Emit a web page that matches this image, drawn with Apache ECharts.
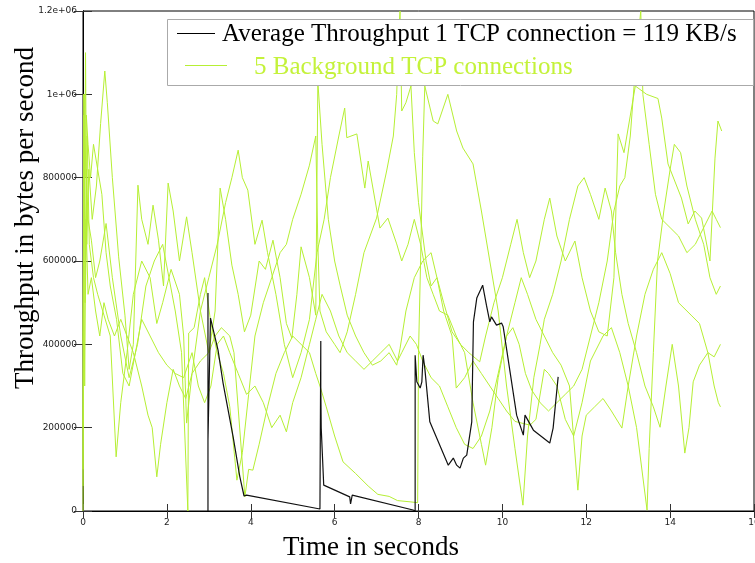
<!DOCTYPE html>
<html>
<head>
<meta charset="utf-8">
<script src="https://cdn.jsdelivr.net/npm/echarts@6/dist/echarts.min.js"></script>
<style>html,body{margin:0;padding:0;background:#fff;}#c{width:755px;height:563px;}</style>
</head>
<body>
<div id="c"></div>
<script>
// ---- data ----
const yTickLabels = ['0','200000','400000','600000','800000','1e+06','1.2e+06'];
const seriesNames = ['Average Throughput 1 TCP connection = 119 KB/s', '5 Background TCP connections'];

const fgT = [2.98,2.98,2.98,3.04,3.22,3.34,3.58,3.74,3.84,3.90,5.65,5.66,5.67,5.67,5.68,5.74,6.36,6.38,6.42,7.87,7.92,7.92,7.94,7.96,8.04,8.08,8.11,8.15,8.27,8.71,8.83,8.91,8.99,9.07,9.15,9.27,9.31,9.39,9.53,9.62,9.70,9.74,9.86,9.98,10.02,10.34,10.42,10.50,10.54,10.74,11.13,11.21,11.33];
const fgV = [0,523000,170000,463000,386000,307000,178000,82000,36000,38000,4800,0,408000,300000,200000,62000,34000,17000,38000,2400,0,374000,374000,310000,295000,310000,374000,343000,214000,110000,127000,110000,103000,127000,134000,214000,454000,511000,542000,494000,454000,466000,446000,451000,442000,230000,206000,182000,230000,194000,163000,199000,322000];

const bg1T = [0,0.02,0.04,0.06,0.09,0.14,0.22,0.32,0.42,0.52,0.58,0.70,0.85,1.00,1.10,1.20,1.31,1.40,1.55,1.67,1.80,1.92,2.03,2.15,2.30,2.47,2.60,2.80,3.00,3.15,3.27,3.40,3.55,3.70,3.85,4.00,4.20,4.35,4.53,4.70,4.85,4.98,5.10,5.20,5.40,5.55,5.60,5.70,5.85,6.00,6.13,6.30,6.50,6.70,6.90,7.10,7.30,7.48,7.56,7.70,7.90,8.10,8.30,8.44,8.60,8.80,9.00,9.20,9.46,9.60,9.80,10.00,10.20,10.35,10.50,10.65,10.80,11.00,11.13,11.30,11.50,11.73,11.90,12.10,12.30,12.50,12.66,12.76,12.90,13.17,13.44,13.71,13.80,13.95,14.27,14.43,14.59,14.75,14.95,15.07,15.14,15.23];
const bg1V = [60000,950000,700000,1100000,640000,820000,700000,780000,930000,1056000,980000,800000,610000,470000,340000,400000,782000,700000,640000,734000,650000,540000,787000,720000,600000,706000,620000,480000,380000,480000,775000,700000,590000,520000,430000,470000,600000,580000,650000,560000,450000,415000,520000,634000,560000,470000,1030000,880000,700000,600000,542000,470000,420000,380000,350000,360000,380000,350000,390000,480000,560000,600000,620000,560000,500000,430000,400000,380000,358000,420000,500000,560000,640000,700000,620000,560000,600000,700000,751000,660000,600000,648000,560000,480000,430000,420000,560000,905000,860000,1020000,1000000,990000,943000,833000,751000,689000,720000,703000,600000,847000,936000,912000];

const bg2T = [0,0.03,0.06,0.10,0.15,0.25,0.35,0.50,0.65,0.79,0.90,1.05,1.20,1.40,1.60,1.76,1.90,2.10,2.30,2.40,2.47,2.60,2.80,3.00,3.20,3.40,3.55,3.70,3.80,3.93,4.10,4.27,4.40,4.60,4.80,5.00,5.20,5.40,5.58,5.75,5.90,6.10,6.24,6.29,6.53,6.72,6.80,7.08,7.27,7.48,7.60,7.75,7.90,8.05,8.20,8.35,8.50,8.70,8.90,9.10,9.30,9.50,9.60,9.75,9.90,10.10,10.30,10.45,10.60,10.80,11.00,11.20,11.40,11.60,11.80,11.90,12.00,12.20,12.40,12.60,12.85,13.00,13.20,13.40,13.60,13.80,14.00,14.20,14.50,14.70,14.90,15.05,15.15,15.20];
const bg2V = [0,780000,520000,900000,640000,560000,520000,470000,420000,130000,260000,380000,520000,600000,560000,450000,500000,580000,520000,420000,211000,330000,480000,560000,640000,740000,800000,866000,800000,770000,640000,698000,620000,520000,400000,320000,380000,460000,620000,700000,800000,900000,967000,896000,905000,775000,840000,679000,703000,641000,600000,640000,700000,640000,560000,520000,480000,470000,420000,380000,260000,160000,110000,200000,320000,420000,500000,560000,520000,460000,420000,380000,350000,300000,50000,180000,230000,250000,270000,240000,199000,300000,420000,520000,580000,620000,570000,500000,470000,450000,380000,300000,260000,250000];

const bg3T = [0,0.03,0.05,0.08,0.12,0.20,0.30,0.40,0.55,0.70,0.90,1.10,1.30,1.50,1.70,1.90,2.05,2.20,2.35,2.50,2.52,2.65,2.80,2.90,3.05,3.20,3.35,3.50,3.67,3.80,3.95,4.10,4.30,4.50,4.70,4.85,5.00,5.20,5.40,5.55,5.60,5.65,5.80,6.00,6.13,6.30,6.50,6.70,7.00,7.24,7.40,7.48,7.53,7.56,7.60,7.70,7.82,7.90,8.00,8.18,8.30,8.44,8.60,8.80,8.90,9.10,9.30,9.50,9.70,9.90,10.10,10.30,10.50,10.66,10.80,11.00,11.10,11.30,11.50,11.70,11.90,12.10,12.40,12.60,12.80,13.00,13.20,13.45,13.50,13.60,13.70,13.85,14.00,14.10,14.25,14.40,14.60,14.80,14.95,15.10,15.20];
const bg3V = [400000,1000000,500000,820000,700000,650000,560000,600000,690000,560000,420000,320000,400000,540000,600000,640000,560000,480000,380000,0,427000,440000,520000,560000,450000,380000,330000,250000,74000,140000,280000,420000,500000,560000,620000,640000,700000,760000,830000,900000,640000,480000,430000,400000,380000,430000,520000,620000,703000,816000,900000,1000000,1150000,1200000,960000,980000,1020000,860000,740000,600000,540000,560000,480000,420000,295000,320000,360000,330000,300000,270000,240000,215000,210000,206000,220000,340000,330000,300000,220000,180000,260000,360000,420000,440000,380000,300000,200000,2000,150000,380000,600000,720000,820000,880000,860000,780000,700000,640000,560000,520000,540000];

const bg4T = [0,0.02,0.04,0.07,0.12,0.20,0.30,0.40,0.50,0.60,0.75,0.90,1.05,1.20,1.40,1.55,1.65,1.76,1.85,2.00,2.15,2.30,2.45,2.60,2.80,3.00,3.15,3.30,3.50,3.60,3.75,3.86,3.95,4.05,4.20,4.40,4.60,4.80,5.00,5.20,5.40,5.55,5.65,5.80,6.00,6.20,6.50,6.80,7.03,7.30,7.50,7.80,7.98,8.00,8.05,8.10,8.15,8.35,8.46,8.70,8.91,9.06,9.30,9.50,9.70,9.90,10.10,10.30,10.49,10.60,10.75,10.90,11.00,11.20,11.40,11.60,11.80,11.95,12.10,12.30,12.45,12.60,12.70,12.85,13.00,13.20,13.40,13.60,13.76,13.90,14.05,14.20,14.35,14.45,14.55,14.70,14.90,15.05,15.20];
const bg4V = [200000,600000,300000,700000,520000,560000,480000,420000,500000,460000,420000,460000,420000,380000,300000,230000,200000,82000,160000,260000,340000,300000,270000,330000,360000,380000,420000,440000,420000,380000,180000,34000,100000,98000,160000,250000,330000,380000,420000,400000,380000,330000,300000,250000,180000,118000,90000,60000,40000,35000,25000,22000,20000,380000,600000,850000,1020000,936000,929000,1000000,912000,871000,833000,720000,600000,480000,300000,150000,14000,180000,320000,400000,460000,520000,600000,700000,780000,800000,760000,700000,775000,720000,620000,520000,450000,380000,300000,250000,201000,300000,400000,300000,139000,200000,310000,350000,380000,370000,400000];

const bg5T = [0,0.02,0.05,0.08,0.12,0.18,0.25,0.35,0.45,0.55,0.65,0.80,0.95,1.10,1.25,1.40,1.60,1.80,2.00,2.20,2.40,2.60,2.75,2.90,3.05,3.20,3.35,3.50,3.70,3.90,4.10,4.30,4.50,4.70,4.85,5.00,5.20,5.40,5.55,5.70,5.90,6.10,6.30,6.50,6.70,6.90,7.10,7.30,7.50,7.60,7.80,7.95,8.10,8.30,8.50,8.70,8.90,9.10,9.30,9.50,9.70,9.90,10.10,10.25,10.40,10.55,10.70,10.90,11.10,11.30,11.50,11.70,11.90,12.10,12.30,12.50,12.66,12.80,12.92,13.05,13.20,13.30,13.35,13.50,13.65,13.80,14.00,14.20,14.40,14.60,14.80,15.00,15.10,15.20];
const bg5V = [100000,1000000,800000,950000,880000,800000,880000,820000,760000,620000,540000,460000,330000,300000,380000,460000,420000,380000,350000,330000,320000,380000,300000,260000,300000,400000,420000,380000,330000,280000,300000,260000,200000,230000,190000,260000,320000,400000,460000,520000,480000,420000,380000,360000,340000,360000,380000,400000,360000,380000,420000,400000,360000,320000,300000,250000,200000,160000,150000,180000,240000,330000,420000,440000,400000,330000,290000,260000,240000,260000,280000,300000,340000,420000,500000,600000,720000,780000,800000,900000,1100000,1200000,1000000,880000,760000,700000,680000,660000,620000,640000,680000,720000,700000,680000];

// ---- chart ----
const GREEN = '#b6ef34';
const chart = echarts.init(document.getElementById('c'), null, {renderer: 'canvas'});
const pairs = (t, v) => t.map((x, i) => [x, v[i]]);
const bgSets = [[bg1T,bg1V],[bg2T,bg2V],[bg3T,bg3V],[bg4T,bg4V],[bg5T,bg5V]];

const series = bgSets.map(s => ({
  name: seriesNames[1], type: 'line', data: pairs(s[0], s[1]),
  showSymbol: false, symbol: 'none', lineStyle: {color: GREEN, width: 1}, itemStyle: {color: GREEN},
  animation: false, z: 2
}));
series.push({
  name: seriesNames[0], type: 'line', data: pairs(fgT, fgV),
  showSymbol: false, symbol: 'none', lineStyle: {color: '#111', width: 1.2}, itemStyle: {color: '#111'},
  animation: false, z: 3
});

const labelFont = {fontFamily: 'DejaVu Sans', fontSize: 9, color: '#222'};
const axisBase = {
  min: 0, axisLine: {show: true, lineStyle: {color: '#000', width: 1}},
  splitLine: {show: false}
};

chart.setOption({
  animation: false,
  backgroundColor: '#fff',
  grid: {left: 83, right: 1, top: 11, bottom: 52, show: true, borderColor: '#000', borderWidth: 1,
    containLabel: false, outerBoundsMode: 'none'},
  xAxis: [
    Object.assign({}, axisBase, {type: 'value', max: 16, interval: 2, position: 'bottom',
      axisTick: {inside: true, length: 7, lineStyle: {color: '#333'}},
      axisLabel: Object.assign({margin: 7, hideOverlap: false}, labelFont)}),
    Object.assign({}, axisBase, {type: 'value', max: 16, interval: 2, position: 'top',
      axisTick: {inside: true, length: 7, lineStyle: {color: '#333'}},
      axisLabel: {show: false}})
  ],
  yAxis: [
    Object.assign({}, axisBase, {type: 'value', max: 1200000, interval: 200000, position: 'left',
      axisTick: {inside: true, length: 9, lineStyle: {color: '#333'}},
      axisLabel: Object.assign({margin: 6, formatter: v => yTickLabels[Math.round(v / 200000)]}, labelFont)}),
    Object.assign({}, axisBase, {type: 'value', max: 1200000, interval: 200000, position: 'right',
      axisTick: {inside: true, length: 9, lineStyle: {color: '#333'}},
      axisLabel: {show: false}})
  ],
  series: series,
  graphic: [
    {type: 'text', x: 26, y: 218, rotation: Math.PI / 2, z: 10,
      style: {text: 'Throughput in bytes per second', font: '27px "Liberation Serif", "Times New Roman", serif', fill: '#000', align: 'center', verticalAlign: 'middle'}},
    {type: 'text', x: 371, y: 548, z: 10,
      style: {text: 'Time in seconds', font: '27px "Liberation Serif", "Times New Roman", serif', fill: '#000', align: 'center', verticalAlign: 'middle'}},
    {type: 'rect', shape: {x: 167.5, y: 19.5, width: 586, height: 66}, z: 20,
      style: {fill: '#fff', stroke: '#aaa', lineWidth: 1}},
    {type: 'line', shape: {x1: 177, y1: 33.5, x2: 215, y2: 33.5}, z: 21, style: {stroke: '#000', lineWidth: 1.2}},
    {type: 'text', x: 222, y: 34, z: 21,
      style: {text: seriesNames[0], font: '25px "Liberation Serif", "Times New Roman", serif', fill: '#000', align: 'left', verticalAlign: 'middle'}},
    {type: 'line', shape: {x1: 185, y1: 65.5, x2: 227, y2: 65.5}, z: 21, style: {stroke: GREEN, lineWidth: 1}},
    {type: 'text', x: 254, y: 67, z: 21,
      style: {text: seriesNames[1], font: '25px "Liberation Serif", "Times New Roman", serif', fill: '#c4f23a', align: 'left', verticalAlign: 'middle'}}
  ]
});
</script>
</body>
</html>
